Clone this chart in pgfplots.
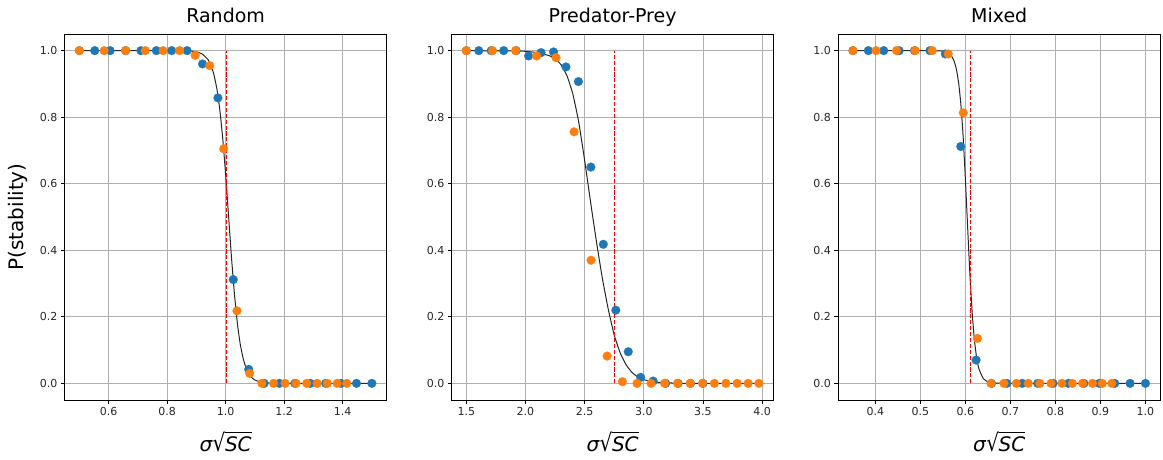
\documentclass[border=0pt]{standalone}
\usepackage{fontspec}
\setmainfont{DejaVu Sans}
\usepackage{graphicx}
\usepackage{pgfplots}
\pgfplotsset{compat=1.18}
\definecolor{mplblue}{HTML}{1F77B4}
\definecolor{mplorange}{HTML}{FF7F0E}
\definecolor{gridgray}{HTML}{B0B0B0}
\newcommand{\xlab}{\textit{σ}\scalebox{1}[1.2]{√}\kern-0.4pt\vbox{\hrule height 0.9pt\kern 2.8pt\hbox{\textit{SC}}}}
\pgfplotsset{
  panel/.style={
    width=321.8pt, height=366pt, scale only axis, anchor=south west,
    ymin=-0.05, ymax=1.05,
    ytick={0,0.2,0.4,0.6,0.8,1.0},
    grid=major, major grid style={gridgray, line width=0.8pt},
    axis line style={line width=0.8pt},
    tick style={black, line width=0.8pt}, major tick length=3.9pt, tick align=outside,
    xtick pos=bottom, ytick pos=left,
    ticklabel style={font=\fontsize{11}{11}\selectfont, text=black!85},
    /pgf/number format/assume math mode=true,
    xticklabel style={/pgf/number format/.cd, fixed, fixed zerofill, precision=1},
    yticklabel style={/pgf/number format/.cd, fixed, fixed zerofill, precision=1},
    title style={font=\fontsize{19}{19}\selectfont, at={([yshift=5pt]axis description cs:0.5,1)}, anchor=base},
    xlabel style={font=\fontsize{20}{24}\selectfont, at={([yshift=-51pt]axis description cs:0.5,0)}, anchor=base, inner sep=0pt},
    ylabel style={font=\fontsize{20}{24}\selectfont, at={([xshift=-41pt]axis description cs:0,0.5)}, anchor=base},
    xlabel={\xlab},
  },
  fitcurve/.style={black!85, line width=1.0pt, smooth, tension=0.3},
  critline/.style={draw=red, line width=1.2pt, dash pattern=on 4.1pt off 1.8pt},
  blueds/.style={color=mplblue, only marks, mark=*, mark size=4.4pt, mark options={solid, draw=mplblue, fill=mplblue, line width=0.2pt}},
  orangeds/.style={color=mplorange, only marks, mark=*, mark size=4.4pt, mark options={solid, draw=mplorange, fill=mplorange, line width=0.2pt}},
}
\begin{document}
\begin{tikzpicture}[x=1pt,y=1pt]
\useasboundingbox (0,0) rectangle (1163,459);
% ---------------- Random ----------------
\begin{axis}[panel, at={(64.7pt,59pt)}, xmin=0.45, xmax=1.55,
  xtick={0.6,0.8,1.0,1.2,1.4}, title={Random}, ylabel={P(stability)}]
\addplot[fitcurve] coordinates {(0.5,1) (0.8,1.0) (0.85,0.9997) (0.88,0.9987) (0.9,0.9964) (0.92,0.990) (0.94,0.973) (0.95,0.956) (0.96,0.928) (0.97,0.886) (0.98,0.824) (0.99,0.738) (1.0,0.629) (1.01,0.505) (1.02,0.380) (1.03,0.270) (1.04,0.182) (1.05,0.118) (1.06,0.075) (1.07,0.046) (1.08,0.028) (1.09,0.017) (1.10,0.010) (1.12,0.004) (1.15,0.001) (1.2,0) (1.5,0)};
\addplot[critline] coordinates {(1.002,0) (1.002,1.0)};
\addplot[blueds] coordinates {(0.5,1) (0.5526,1) (0.6053,1) (0.6579,1) (0.7105,1) (0.7632,1) (0.8158,1) (0.8684,1) (0.9211,0.96) (0.9737,0.858) (1.0263,0.312) (1.0789,0.042) (1.1316,0) (1.1842,0) (1.2368,0) (1.2895,0) (1.3421,0) (1.3947,0) (1.4474,0) (1.5,0)};
\addplot[orangeds] coordinates {(0.5,1) (0.5849,1) (0.6589,1) (0.7255,1) (0.7864,1) (0.8429,1) (0.8959,0.986) (0.9459,0.955) (0.9934,0.705) (1.0387,0.218) (1.0822,0.030) (1.1239,0) (1.1642,0) (1.2031,0) (1.2407,0) (1.2773,0) (1.3129,0) (1.3475,0) (1.3813,0) (1.4142,0)};
\end{axis}
% ---------------- Predator-Prey ----------------
\begin{axis}[panel, at={(451.7pt,59pt)}, xmin=1.3764, xmax=4.096,
  xtick={1.5,2.0,2.5,3.0,3.5,4.0}, title={Predator-Prey}]
\addplot[fitcurve] coordinates {(1.5,1.0) (1.9,0.999) (2.0,0.998) (2.1,0.994) (2.2,0.985) (2.25,0.975) (2.3,0.958) (2.35,0.925) (2.4,0.870) (2.45,0.785) (2.5,0.670) (2.55,0.545) (2.6,0.425) (2.65,0.315) (2.7,0.222) (2.75,0.145) (2.8,0.092) (2.85,0.056) (2.9,0.033) (2.95,0.019) (3.0,0.011) (3.1,0.004) (3.2,0.0015) (3.4,0) (3.9724,0)};
\addplot[critline] coordinates {(2.75,0) (2.75,1.0)};
\addplot[blueds] coordinates {(1.5,1) (1.6053,1) (1.7105,1) (1.8158,1) (1.9211,1) (2.0263,0.984) (2.1316,0.994) (2.2368,0.996) (2.3421,0.951) (2.4474,0.907) (2.5526,0.650) (2.6579,0.418) (2.7632,0.220) (2.8684,0.095) (2.9737,0.018) (3.0789,0.007) (3.1842,0) (3.2895,0) (3.3947,0) (3.5,0)};
\addplot[orangeds] coordinates {(1.5,1) (1.7211,1) (1.9168,1) (2.0944,0.984) (2.2580,0.979) (2.4105,0.756) (2.5539,0.370) (2.6897,0.082) (2.8190,0.005) (2.9426,0) (3.0612,0) (3.1754,0) (3.2856,0) (3.3922,0) (3.4956,0) (3.5960,0) (3.6937,0) (3.7889,0) (3.8817,0) (3.9724,0)};
\end{axis}
% ---------------- Mixed ----------------
\begin{axis}[panel, at={(838.3pt,59pt)}, xmin=0.3175, xmax=1.0325,
  xtick={0.4,0.5,0.6,0.7,0.8,0.9,1.0}, title={Mixed}]
\addplot[fitcurve] coordinates {(0.35,1) (0.5,1.0) (0.54,0.9995) (0.55,0.9983) (0.56,0.9944) (0.57,0.9818) (0.575,0.9677) (0.58,0.9432) (0.585,0.902) (0.59,0.836) (0.595,0.739) (0.60,0.610) (0.605,0.465) (0.61,0.325) (0.615,0.211) (0.62,0.129) (0.625,0.076) (0.63,0.0435) (0.64,0.0138) (0.65,0.0043) (0.66,0.0013) (0.7,0) (1.0,0)};
\addplot[critline] coordinates {(0.612,0) (0.612,1.0)};
\addplot[blueds] coordinates {(0.35,1) (0.3842,1) (0.4184,1) (0.4526,1) (0.4868,1) (0.5211,1) (0.5553,0.990) (0.5895,0.712) (0.6237,0.070) (0.6579,0) (0.6921,0) (0.7263,0) (0.7605,0) (0.7947,0) (0.8289,0) (0.8632,0) (0.8974,0) (0.9316,0) (0.9658,0) (1.0,0)};
\addplot[orangeds] coordinates {(0.35,1) (0.4014,1) (0.4469,1) (0.4882,1) (0.5262,1) (0.5617,0.990) (0.5951,0.813) (0.6267,0.135) (0.6567,0) (0.6855,0) (0.7131,0) (0.7397,0) (0.7653,0) (0.7901,0) (0.8142,0) (0.8376,0) (0.8603,0) (0.8824,0) (0.9040,0) (0.9252,0)};
\end{axis}
\end{tikzpicture}
\end{document}
